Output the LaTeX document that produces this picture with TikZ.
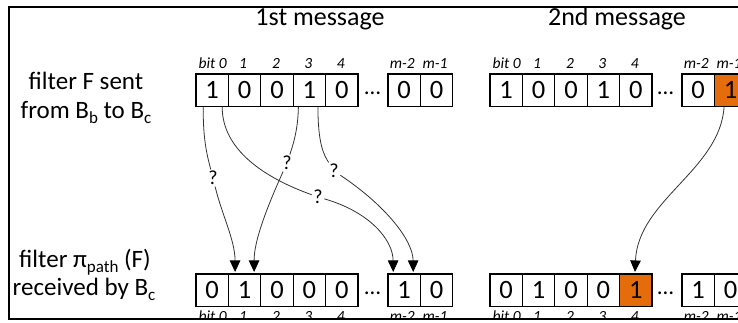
\documentclass[tikz,border=0pt]{standalone}
\usepackage{fontspec}
\setmainfont{Carlito}
\usetikzlibrary{arrows.meta,calc}
\definecolor{cellorange}{HTML}{E46C0A}
\definecolor{conncol}{HTML}{333333}
\newcommand{\sbs}[1]{\raisebox{-0.22em}{\fontsize{17}{17}\selectfont #1}}
\begin{document}
\begin{tikzpicture}[x=1pt,y=-1pt,
  cell/.style={draw=black,line width=1.3pt,minimum width=32.4pt,minimum height=32.7pt,inner sep=0pt,outer sep=0pt,font=\fontsize{26.5}{26.5}\selectfont},
  hot/.style={cell,fill=cellorange},
  bitlab/.style={font=\fontsize{15.5}{15.5}\selectfont\itshape,anchor=base,inner sep=0pt},
  sidelab/.style={font=\fontsize{25}{25}\selectfont,anchor=base,inner sep=0pt},
  title/.style={font=\fontsize{26}{26}\selectfont,anchor=base,inner sep=0pt},
  qmark/.style={font=\fontsize{20}{20}\selectfont,inner sep=1.5pt},
  dotsnode/.style={font=\fontsize{23}{23}\selectfont,inner sep=0pt,anchor=base},
  conn/.style={draw=conncol,line width=0.8pt},
  arr/.style={conn,-{Triangle[width=10.5pt,length=11.5pt,color=black]}},
  frameline/.style={draw=black,line width=2pt}
]
\useasboundingbox (0,0) rectangle (738,322);
\begin{scope}
\clip (9,7) rectangle (738,319);
% titles
\node[title] (t1) at (320,25) {1st message};
\node[title] (t2) at (617,25) {2nd message};
% side labels
\node[sidelab] (l1) at (86,89) {filter F sent};
\node[sidelab] (l2) at (86,118) {from B\sbs{b} to B\sbs{c}};
\node[sidelab] (l3) at (85,267) {filter π\sbs{path} (F)};
\node[sidelab] (l4) at (84,295) {received by B\sbs{c}};
% 1st message, top row
\foreach \i/\v/\x in {0/1/212.2,1/0/244.6,2/0/277,3/1/309.4,4/0/341.8,m2/0/404.2,m1/0/436.6}
  \node[cell] (ta\i) at (\x,90.4) {\v};
% 1st message, bottom row
\foreach \i/\v/\x in {0/0/212.2,1/1/244.6,2/0/277,3/0/309.4,4/0/341.8,m2/1/404.2,m1/0/436.6}
  \node[cell] (ba\i) at (\x,290.3) {\v};
% 2nd message, top row
\foreach \i/\v/\x in {0/1/506.2,1/0/538.6,2/0/571,3/1/603.4,4/0/635.8,m2/0/698.2}
  \node[cell] (tb\i) at (\x,90.4) {\v};
\node[hot] (tbm1) at (730.6,90.4) {1};
% 2nd message, bottom row
\foreach \i/\v/\x in {0/0/506.2,1/1/538.6,2/0/571,3/0/603.4,m2/1/698.2,m1/0/730.6}
  \node[cell] (bb\i) at (\x,290.3) {\v};
\node[hot] (bb4) at (635.8,290.3) {1};
% dots
\node[dotsnode] (da1) at (372.5,94.5) {…};
\node[dotsnode] (da2) at (372.5,294.5) {…};
\node[dotsnode] (db1) at (665.5,94.5) {…};
\node[dotsnode] (db2) at (665.5,294.5) {…};
% bit labels
\foreach \o in {0,294}{
  \foreach \yy in {68.5,321}{
    \foreach \t/\x in {bit 0/212.7,1/243.1,2/276,3/308.4,4/340.8,m-2/402.2,m-1/435.1}
      \node[bitlab] at (\x+\o,\yy) {\t};
  }
}
% question marks
\node[qmark] (q1) at (213,178) {?};
\node[qmark] (q2) at (318,197) {?};
\node[qmark] (q3) at (287,163) {?};
\node[qmark] (q4) at (334,171) {?};
% connectors
\coordinate (s1) at ($(ta0.south)+(-9,0)$);
\coordinate (s2) at ($(ta0.south)+(10,0)$);
\coordinate (s3) at ($(ta3.south)+(-11,0)$);
\coordinate (s4) at ($(ta3.south)+(8.5,0)$);
\coordinate (e1) at ($(ba1.north)+(-9.5,-2)$);
\coordinate (e2) at ($(ba1.north)+(9.5,-2)$);
\coordinate (e3) at ($(bam2.north)+(-11,-2)$);
\coordinate (e4) at ($(bam2.north)+(9,-2)$);
\coordinate (s5) at ($(tbm1.south)+(-6.5,0)$);
\coordinate (e5) at ($(bb4.north)+(-0.8,-2)$);
\draw[conn] (s1) .. controls (203,140) and (207,155) .. (q1);
\draw[arr] (q1) .. controls (222,215) and (235,240) .. (e1);
\draw[conn] (s2) .. controls (222,150) and (265,178) .. (q2);
\draw[arr] (q2) .. controls (370,212) and (393,240) .. (e3);
\draw[conn] (s3) .. controls (298,130) and (293,145) .. (q3);
\draw[arr] (q3) .. controls (268,205) and (254,240) .. (e2);
\draw[conn] (s4) .. controls (318,145) and (324,155) .. (q4);
\draw[arr] (q4) .. controls (385,205) and (413,240) .. (e4);
\draw[arr] (s5) .. controls (720,170) and (638,200) .. (e5);
\end{scope}
% frame
\draw[frameline] (738,7) -- (9,7) -- (9,319) -- (738,319);
\end{tikzpicture}
\end{document}
